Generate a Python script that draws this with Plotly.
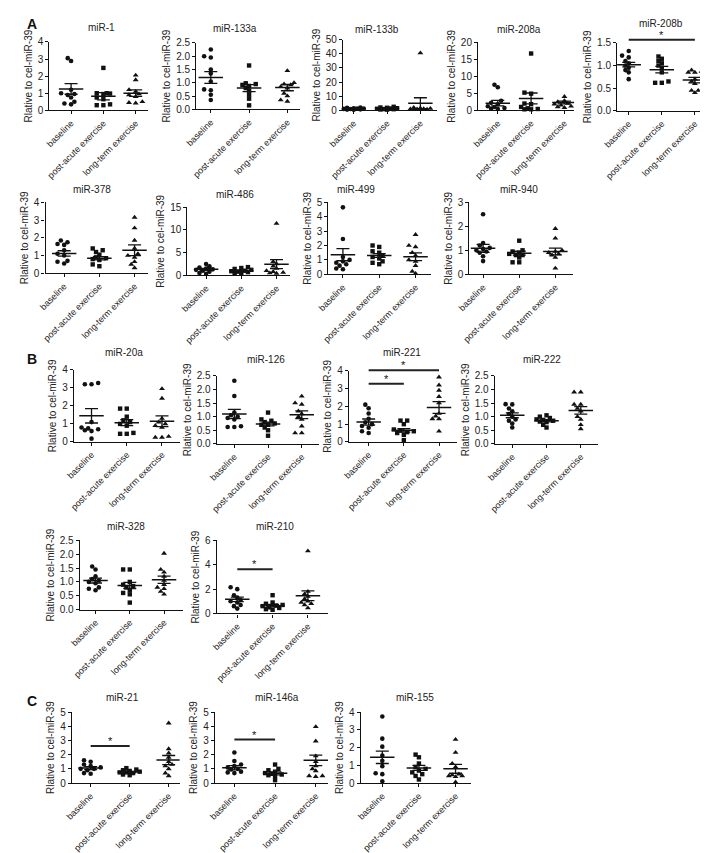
import plotly.graph_objects as go

W, H = 708, 853
CATEGORIES = ["baseline", "post-acute exercise", "long-term exercise"]
Y_LABEL = "Rlative to cel-miR-39"

# ---------------- data ----------------
mir1_baseline = [3.05, 2.88, 1.2, 1.0, 0.95, 0.9, 0.75, 0.5, 0.4, 0.35]
mir1_post = [2.48, 1.0, 1.0, 0.98, 0.95, 0.75, 0.65, 0.35, 0.3, 0.3]
mir1_long = [2.05, 1.78, 1.2, 1.1, 0.95, 0.9, 0.8, 0.5, 0.45, 0.42]
mir1_mean = [1.25, 0.82, 1.0]
mir1_sem = [0.31, 0.21, 0.19]
mir1_yticks = [0, 1, 2, 3, 4]

mir133a_baseline = [2.25, 2.0, 1.95, 1.5, 1.35, 1.05, 0.75, 0.72, 0.55, 0.35]
mir133a_post = [1.65, 0.98, 0.95, 0.92, 0.88, 0.8, 0.7, 0.55, 0.4, 0.15]
mir133a_long = [1.45, 1.0, 0.95, 0.92, 0.85, 0.8, 0.6, 0.5, 0.35, 0.3]
mir133a_mean = [1.2, 0.8, 0.82]
mir133a_sem = [0.22, 0.13, 0.12]
mir133a_yticks = [0.0, 0.5, 1.0, 1.5, 2.0, 2.5]

mir133b_baseline = [2.0, 1.8, 1.5, 1.3, 1.2, 1.0, 0.9, 0.7, 0.5, 0.4]
mir133b_post = [2.5, 2.0, 1.8, 1.5, 1.3, 1.1, 0.9, 0.8, 0.6, 0.5]
mir133b_long = [40.5, 2.0, 1.5, 1.3, 1.0, 0.9, 0.8, 0.6, 0.5, 0.4]
mir133b_mean = [1.1, 1.3, 5.0]
mir133b_sem = [0.2, 0.2, 3.9]
mir133b_yticks = [0, 10, 20, 30, 40, 50]

mir208a_baseline = [7.5, 6.8, 2.8, 2.2, 1.8, 1.2, 1.0, 0.7, 0.5, 0.4]
mir208a_post = [16.7, 5.2, 4.9, 2.0, 1.8, 1.0, 0.6, 0.4, 0.3, 0.3]
mir208a_long = [4.0, 2.8, 2.5, 2.3, 2.0, 1.8, 1.5, 1.2, 1.0, 0.8]
mir208a_mean = [2.1, 3.5, 2.3]
mir208a_sem = [0.8, 1.6, 0.4]
mir208a_yticks = [0, 5, 10, 15, 20]

mir208b_baseline = [1.32, 1.22, 1.18, 1.1, 1.05, 1.0, 0.95, 0.9, 0.85, 0.7]
mir208b_post = [1.2, 1.15, 1.1, 1.05, 1.0, 0.95, 0.85, 0.65, 0.62, 0.62]
mir208b_long = [0.9, 0.87, 0.85, 0.85, 0.7, 0.65, 0.6, 0.45, 0.45, 0.4]
mir208b_mean = [1.02, 0.91, 0.68]
mir208b_sem = [0.05, 0.07, 0.06]
mir208b_yticks = [0.0, 0.5, 1.0, 1.5]
mir208b_sig = [(0, 2, 1.57)]

mir378_baseline = [1.85, 1.75, 1.65, 1.6, 1.3, 1.1, 1.0, 0.7, 0.65, 0.55]
mir378_post = [1.4, 1.3, 1.2, 1.05, 0.9, 0.85, 0.8, 0.75, 0.5, 0.4]
mir378_long = [3.15, 2.55, 1.85, 1.4, 1.1, 1.0, 0.9, 0.65, 0.5, 0.3]
mir378_mean = [1.12, 0.85, 1.3]
mir378_sem = [0.15, 0.09, 0.3]
mir378_yticks = [0, 1, 2, 3, 4]

mir486_baseline = [2.5, 2.0, 1.7, 1.5, 1.3, 1.2, 1.0, 0.8, 0.5, 0.3]
mir486_post = [1.8, 1.6, 1.4, 1.2, 1.0, 0.9, 0.8, 0.7, 0.5, 0.4]
mir486_long = [11.4, 3.0, 2.5, 2.0, 1.5, 1.0, 0.8, 0.6, 0.5, 0.4]
mir486_mean = [1.3, 1.0, 2.45]
mir486_sem = [0.22, 0.15, 1.0]
mir486_yticks = [0, 5, 10, 15]

mir499_baseline = [4.65, 2.45, 1.2, 1.0, 0.9, 0.8, 0.7, 0.6, 0.4, 0.35]
mir499_post = [2.0, 1.9, 1.6, 1.5, 1.3, 1.2, 1.1, 0.9, 0.8, 0.7]
mir499_long = [2.75, 2.0, 1.9, 1.5, 1.3, 1.0, 0.9, 0.6, 0.2, 0.05]
mir499_mean = [1.36, 1.3, 1.22]
mir499_sem = [0.42, 0.13, 0.27]
mir499_yticks = [0, 1, 2, 3, 4, 5]

mir940_baseline = [2.5, 1.3, 1.2, 1.1, 1.05, 1.0, 0.95, 0.9, 0.75, 0.55]
mir940_post = [1.4, 1.0, 0.95, 0.9, 0.85, 0.8, 0.8, 0.7, 0.5, 0.5]
mir940_long = [1.9, 1.5, 1.0, 0.95, 0.9, 0.85, 0.8, 0.7, 0.25]
mir940_mean = [1.08, 0.88, 0.95]
mir940_sem = [0.17, 0.08, 0.14]
mir940_yticks = [0, 1, 2, 3]

mir20a_baseline = [3.27, 3.2, 3.2, 1.1, 0.8, 0.75, 0.7, 0.65, 0.6, 0.18]
mir20a_post = [1.85, 1.85, 1.4, 1.2, 1.1, 1.0, 0.9, 0.5, 0.45, 0.45]
mir20a_long = [2.95, 2.42, 1.3, 1.1, 1.0, 0.9, 0.8, 0.3, 0.25, 0.25]
mir20a_mean = [1.45, 1.07, 1.15]
mir20a_sem = [0.4, 0.17, 0.3]
mir20a_yticks = [0, 1, 2, 3, 4]

mir126_baseline = [2.32, 1.76, 1.15, 1.05, 1.0, 0.95, 0.9, 0.65, 0.62, 0.62]
mir126_post = [1.15, 0.9, 0.85, 0.8, 0.75, 0.7, 0.7, 0.6, 0.5, 0.3]
mir126_long = [1.75, 1.5, 1.45, 1.2, 1.1, 1.0, 0.9, 0.65, 0.4, 0.4]
mir126_mean = [1.1, 0.73, 1.07]
mir126_sem = [0.17, 0.07, 0.14]
mir126_yticks = [0.0, 0.5, 1.0, 1.5, 2.0, 2.5]

mir221_baseline = [2.1, 1.9, 1.6, 1.3, 1.1, 1.0, 0.9, 0.8, 0.6, 0.5]
mir221_post = [1.2, 1.2, 1.0, 0.7, 0.65, 0.6, 0.55, 0.5, 0.4, 0.1]
mir221_long = [3.65, 3.2, 2.9, 2.55, 2.2, 1.6, 1.45, 1.3, 1.3, 0.6]
mir221_mean = [1.12, 0.65, 1.94]
mir221_sem = [0.17, 0.1, 0.33]
mir221_yticks = [0, 1, 2, 3, 4]
mir221_sig = [(0, 2, 4.03), (0, 1, 3.28)]

mir222_baseline = [1.46, 1.45, 1.3, 1.2, 1.1, 1.0, 0.9, 0.85, 0.75, 0.6]
mir222_post = [1.05, 1.0, 0.95, 0.9, 0.88, 0.85, 0.82, 0.8, 0.7, 0.6]
mir222_long = [1.9, 1.9, 1.45, 1.45, 1.3, 1.2, 1.0, 0.9, 0.7, 0.55]
mir222_mean = [1.05, 0.85, 1.23]
mir222_sem = [0.09, 0.04, 0.14]
mir222_yticks = [0.0, 0.5, 1.0, 1.5, 2.0, 2.5]

mir328_baseline = [1.56, 1.45, 1.2, 1.1, 1.05, 1.0, 0.95, 0.8, 0.75, 0.7]
mir328_post = [1.45, 1.45, 1.0, 0.9, 0.85, 0.8, 0.7, 0.6, 0.55, 0.25]
mir328_long = [2.03, 1.45, 1.35, 1.2, 1.05, 0.9, 0.8, 0.75, 0.65, 0.55]
mir328_mean = [1.05, 0.87, 1.08]
mir328_sem = [0.09, 0.11, 0.13]
mir328_yticks = [0.0, 0.5, 1.0, 1.5, 2.0, 2.5]

mir210_baseline = [2.15, 2.0, 1.5, 1.3, 1.1, 1.0, 0.9, 0.7, 0.6, 0.4]
mir210_post = [1.5, 0.9, 0.8, 0.7, 0.65, 0.6, 0.5, 0.45, 0.35, 0.3]
mir210_long = [5.13, 1.8, 1.6, 1.4, 1.2, 1.0, 0.9, 0.8, 0.7, 0.45]
mir210_mean = [1.16, 0.64, 1.45]
mir210_sem = [0.18, 0.1, 0.4]
mir210_yticks = [0, 2, 4, 6]
mir210_sig = [(0, 1, 3.63)]

mir21_baseline = [1.6, 1.5, 1.3, 1.2, 1.1, 1.0, 1.0, 0.9, 0.7, 0.65]
mir21_post = [1.05, 0.95, 0.9, 0.85, 0.8, 0.75, 0.75, 0.7, 0.6, 0.55]
mir21_long = [4.22, 2.4, 2.1, 1.8, 1.5, 1.3, 1.2, 1.0, 0.7, 0.5]
mir21_mean = [1.05, 0.77, 1.62]
mir21_sem = [0.1, 0.05, 0.32]
mir21_yticks = [0, 1, 2, 3, 4, 5]
mir21_sig = [(0, 1, 2.6)]

mir146a_baseline = [2.15, 1.55, 1.3, 1.2, 1.1, 1.0, 0.95, 0.8, 0.75, 0.7]
mir146a_post = [1.3, 1.0, 0.9, 0.8, 0.7, 0.65, 0.6, 0.55, 0.5, 0.2]
mir146a_long = [3.96, 2.95, 1.9, 1.5, 1.2, 1.0, 0.85, 0.5, 0.5, 0.45]
mir146a_mean = [1.08, 0.68, 1.6]
mir146a_sem = [0.15, 0.1, 0.37]
mir146a_yticks = [0, 1, 2, 3, 4, 5]
mir146a_sig = [(0, 1, 3.06)]

mir155_baseline = [3.75, 2.5, 2.05, 1.55, 1.25, 0.95, 0.55, 0.5, 0.1]
mir155_post = [1.6, 1.45, 1.1, 0.9, 0.8, 0.7, 0.6, 0.5, 0.4, 0.2]
mir155_long = [2.45, 1.72, 1.1, 0.9, 0.5, 0.45, 0.4, 0.4, 0.35, 0.05]
mir155_mean = [1.45, 0.85, 0.8]
mir155_sem = [0.35, 0.14, 0.25]
mir155_yticks = [0, 1, 2, 3, 4]

PLOTS = [
    ("miR-1", mir1_baseline, mir1_post, mir1_long, mir1_mean, mir1_sem, mir1_yticks, []),
    ("miR-133a", mir133a_baseline, mir133a_post, mir133a_long, mir133a_mean, mir133a_sem, mir133a_yticks, []),
    ("miR-133b", mir133b_baseline, mir133b_post, mir133b_long, mir133b_mean, mir133b_sem, mir133b_yticks, []),
    ("miR-208a", mir208a_baseline, mir208a_post, mir208a_long, mir208a_mean, mir208a_sem, mir208a_yticks, []),
    ("miR-208b", mir208b_baseline, mir208b_post, mir208b_long, mir208b_mean, mir208b_sem, mir208b_yticks, mir208b_sig),
    ("miR-378", mir378_baseline, mir378_post, mir378_long, mir378_mean, mir378_sem, mir378_yticks, []),
    ("miR-486", mir486_baseline, mir486_post, mir486_long, mir486_mean, mir486_sem, mir486_yticks, []),
    ("miR-499", mir499_baseline, mir499_post, mir499_long, mir499_mean, mir499_sem, mir499_yticks, []),
    ("miR-940", mir940_baseline, mir940_post, mir940_long, mir940_mean, mir940_sem, mir940_yticks, []),
    ("miR-20a", mir20a_baseline, mir20a_post, mir20a_long, mir20a_mean, mir20a_sem, mir20a_yticks, []),
    ("miR-126", mir126_baseline, mir126_post, mir126_long, mir126_mean, mir126_sem, mir126_yticks, []),
    ("miR-221", mir221_baseline, mir221_post, mir221_long, mir221_mean, mir221_sem, mir221_yticks, mir221_sig),
    ("miR-222", mir222_baseline, mir222_post, mir222_long, mir222_mean, mir222_sem, mir222_yticks, []),
    ("miR-328", mir328_baseline, mir328_post, mir328_long, mir328_mean, mir328_sem, mir328_yticks, []),
    ("miR-210", mir210_baseline, mir210_post, mir210_long, mir210_mean, mir210_sem, mir210_yticks, mir210_sig),
    ("miR-21", mir21_baseline, mir21_post, mir21_long, mir21_mean, mir21_sem, mir21_yticks, mir21_sig),
    ("miR-146a", mir146a_baseline, mir146a_post, mir146a_long, mir146a_mean, mir146a_sem, mir146a_yticks, mir146a_sig),
    ("miR-155", mir155_baseline, mir155_post, mir155_long, mir155_mean, mir155_sem, mir155_yticks, []),
]

# ---------------- layout geometry (pixels) ----------------
# name: (axis left, axis right, plot top, plot bottom, x range lo, x range hi, title x, title y)
GEOM = {
    "miR-1": (27, 128, 28.3, 97.7, -0.67, 2.39, 80, 14),
    "miR-133a": (177, 283, 29.3, 96.7, -0.38, 2.33, 217, 15),
    "miR-133b": (327, 423, 26, 97.7, -0.32, 2.5, 362, 16),
    "miR-208a": (465, 563, 28.7, 97.7, -0.59, 2.29, 507, 16),
    "miR-208b": (607, 705, 29.3, 98.3, -0.35, 2.55, 652, 10),
    "miR-378": (23, 128, 191, 263, -0.53, 2.39, 70, 178),
    "miR-486": (168, 273, 196, 265, -0.53, 2.39, 217, 183),
    "miR-499": (312, 417, 191, 264, -0.4, 2.43, 340, 178),
    "miR-940": (456, 562, 191, 264, -0.38, 2.49, 507, 178),
    "miR-20a": (52, 160, 361, 434, -0.5, 2.5, 103, 343),
    "miR-126": (198, 302, 367, 436, -0.52, 2.5, 248, 350),
    "miR-221": (333, 443, 362, 434, -0.56, 2.5, 387, 343),
    "miR-222": (482, 587, 367, 436, -0.51, 2.49, 530, 350),
    "miR-328": (58, 163, 534, 604, -0.46, 2.54, 105, 520),
    "miR-210": (198, 312, 534, 608, -0.58, 2.58, 257, 520),
    "miR-21": (50, 160, 708, 780, -0.48, 2.28, 102, 693),
    "miR-146a": (196, 312, 708, 780, -0.48, 2.31, 260, 693),
    "miR-155": (345, 458, 708, 780, -0.59, 2.43, 400, 693),
}
PANEL_LETTERS = [("A", 9, 10), ("B", 9, 350), ("C", 9, 697)]

FONT = "Liberation Sans, Arial, sans-serif"
INK = "#111111"
SYMBOLS = ["circle", "square", "triangle-up"]
SIZES = [4.6, 4.4, 5.2]


def swarm(values, px_x, px_y, step=3.4, min_d=4.0):
    order = sorted(range(len(values)), key=lambda k: values[k])
    placed = []
    offs = [0.0] * len(values)
    cands = [0, -1, 1, -2, 2, -3, 3]
    for k in order:
        yp = values[k] * px_y
        chosen = None
        best_c, best_d = 0, -1
        for c in cands:
            xp = c * step
            d = min([((xp - a) ** 2 + (yp - b) ** 2) ** 0.5 for a, b in placed] or [99])
            if d >= min_d:
                chosen = xp
                break
            if d > best_d:
                best_d, best_c = d, xp
        if chosen is None:
            chosen = best_c
        placed.append((chosen, yp))
        offs[k] = chosen / px_x
    return offs


fig = go.Figure()
layout = dict(
    width=W, height=H, autosize=False,
    margin=dict(l=0, r=0, t=0, b=0),
    paper_bgcolor="white", plot_bgcolor="white",
    showlegend=False,
    font=dict(family=FONT, color=INK, size=10),
)
annotations = []
shapes = []

for idx, (name, b, p, l, means, sems, yticks, sigs) in enumerate(PLOTS, start=1):
    axl, axr, top, bot, lo, hi, tx, ty = GEOM[name]
    xid = "x" if idx == 1 else f"x{idx}"
    yid = "y" if idx == 1 else f"y{idx}"
    xkey = "xaxis" if idx == 1 else f"xaxis{idx}"
    ykey = "yaxis" if idx == 1 else f"yaxis{idx}"
    ytop = yticks[-1]
    px_x = (axr - axl) / (hi - lo)
    px_y = (bot - top) / ytop
    is_dec = any(abs(t - round(t)) > 1e-9 for t in yticks)
    ticktext = [f"{t:.1f}" if is_dec else f"{int(t)}" for t in yticks]

    layout[xkey] = dict(
        domain=[axl / W, axr / W], anchor=yid, range=[lo, hi],
        tickmode="array", tickvals=[0, 1, 2], ticktext=CATEGORIES, tickangle=-45,
        showline=True, linecolor=INK, linewidth=1.3, ticks="outside", ticklen=3,
        tickwidth=1.1, tickcolor=INK, showgrid=False, zeroline=False,
        tickfont=dict(size=9, family=FONT, color="#222222"), fixedrange=True,
    )
    layout[ykey] = dict(
        domain=[1 - bot / H, 1 - top / H], anchor=xid, range=[0, ytop],
        tickmode="array", tickvals=yticks, ticktext=ticktext,
        showline=True, linecolor=INK, linewidth=1.3, ticks="outside", ticklen=3,
        tickwidth=1.1, tickcolor=INK, showgrid=False, zeroline=False,
        tickfont=dict(size=10, family=FONT, color="#222222"),
        title=dict(text=Y_LABEL, font=dict(size=10, family=FONT, color="#222222"), standoff=3),
        fixedrange=True,
    )

    for g, vals in enumerate([b, p, l]):
        offs = swarm(vals, px_x, px_y)
        fig.add_trace(go.Scatter(
            x=[g + o for o in offs], y=vals, mode="markers", xaxis=xid, yaxis=yid,
            marker=dict(symbol=SYMBOLS[g], size=SIZES[g], color=INK, line=dict(width=0)),
            cliponaxis=False, hoverinfo="skip",
        ))

    hw = 12.5 / px_x
    mx, my = [], []
    for g, m in enumerate(means):
        mx += [g - hw, g + hw, None]
        my += [m, m, None]
    fig.add_trace(go.Scatter(
        x=mx, y=my, mode="lines", xaxis=xid, yaxis=yid,
        line=dict(color=INK, width=1.5), hoverinfo="skip",
    ))
    fig.add_trace(go.Scatter(
        x=[0, 1, 2], y=means, mode="markers", xaxis=xid, yaxis=yid,
        marker=dict(size=1, color="rgba(0,0,0,0)"),
        error_y=dict(type="data", array=sems, visible=True, color=INK, thickness=1.3, width=6.5),
        hoverinfo="skip",
    ))

    for (a, c, yv) in sigs:
        x0 = (a - lo) / (hi - lo)
        x1 = (c - lo) / (hi - lo)
        yy = yv / ytop
        shapes.append(dict(
            type="line", xref=f"{xid} domain", yref=f"{yid} domain",
            x0=x0, x1=x1, y0=yy, y1=yy, line=dict(color="#222222", width=2),
        ))
        annotations.append(dict(
            text="*", xref=f"{xid} domain", yref=f"{yid} domain",
            x=(x0 + x1) / 2, y=yy, xanchor="center", yanchor="bottom",
            showarrow=False, yshift=-3, font=dict(size=11, family=FONT, color=INK),
        ))

    annotations.append(dict(
        text=name, xref="paper", yref="paper", x=tx / W, y=1 - ty / H,
        xanchor="center", yanchor="middle", showarrow=False,
        font=dict(size=10, family=FONT, color="#222222"),
    ))

for letter, lx, ly in PANEL_LETTERS:
    annotations.append(dict(
        text=f"<b>{letter}</b>", xref="paper", yref="paper", x=lx / W, y=1 - ly / H,
        xanchor="center", yanchor="middle", showarrow=False,
        font=dict(size=14, family=FONT, color=INK),
    ))

layout["annotations"] = annotations
layout["shapes"] = shapes
fig.update_layout(**layout)
fig.write_html("out.html")
